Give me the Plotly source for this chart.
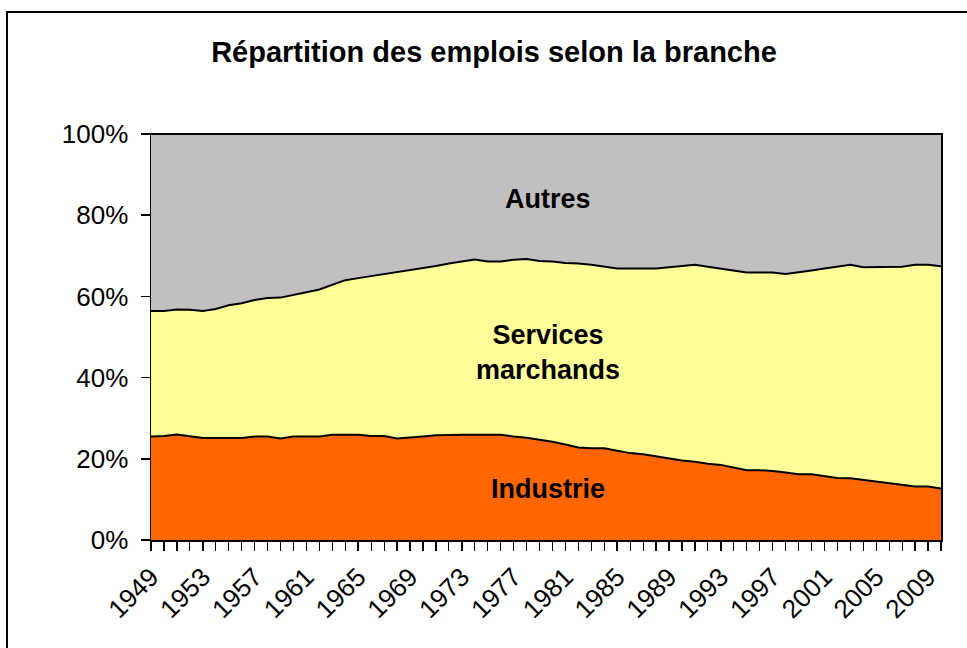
import plotly.graph_objects as go

years = list(range(1949, 2011))

# share of "Industrie" (%)
industrie = [25.5, 25.6, 26.0, 25.5, 25.1, 25.1, 25.1, 25.1, 25.5, 25.5,
             25.0, 25.5, 25.5, 25.5, 25.9, 25.9, 25.9, 25.6, 25.6, 25.0,
             25.2, 25.5, 25.8, 25.9, 25.9, 25.9, 25.9, 25.9, 25.5, 25.2,
             24.7, 24.2, 23.5, 22.8, 22.6, 22.6, 22.0, 21.4, 21.1, 20.6,
             20.0, 19.6, 19.3, 18.8, 18.5, 17.9, 17.2, 17.2, 17.0, 16.6,
             16.2, 16.2, 15.7, 15.3, 15.2, 14.8, 14.4, 14.0, 13.6, 13.2,
             13.2, 12.7]

# cumulative top of "Services marchands" (Industrie + Services)
top_services = [56.4, 56.4, 56.8, 56.7, 56.4, 56.9, 57.8, 58.3, 59.1, 59.6,
                59.7, 60.3, 61.0, 61.7, 62.9, 64.0, 64.5, 65.0, 65.5, 65.9,
                66.4, 67.0, 67.5, 68.1, 68.6, 69.1, 68.6, 68.6, 69.0, 69.2,
                68.7, 68.6, 68.2, 68.1, 67.8, 67.4, 66.9, 66.9, 66.9, 66.9,
                67.2, 67.5, 67.8, 67.3, 66.8, 66.3, 65.9, 65.9, 65.9, 65.5,
                65.9, 66.4, 66.9, 67.4, 67.8, 67.2, 67.2, 67.2, 67.3, 67.8,
                67.8, 67.4]

services = [round(t - i, 1) for t, i in zip(top_services, industrie)]
autres = [round(100 - t, 1) for t in top_services]

tick_years = list(range(1949, 2010, 4))
tick_text = [str(y) for y in tick_years]
y_ticks = [0, 20, 40, 60, 80, 100]
y_text = [f"{v}%" for v in y_ticks]

FONT = "Arial, Liberation Sans, sans-serif"

fig = go.Figure()
series = [("Industrie", industrie, "#FF6600"),
          ("Services marchands", services, "#FFFF99"),
          ("Autres", autres, "#C0C0C0")]
for name, vals, col in series:
    fig.add_trace(go.Scatter(
        x=years, y=vals, name=name, mode="lines", stackgroup="one",
        fillcolor=col, line=dict(color="black", width=2), hoverinfo="skip"))

fig.update_layout(
    width=967, height=648,
    margin=dict(l=151, r=26, t=134, b=108, autoexpand=False),
    paper_bgcolor="white", plot_bgcolor="white",
    showlegend=False,
    font=dict(family=FONT, color="black", size=26),
    title=dict(text="<b>Répartition des emplois selon la branche</b>",
               xref="container", yref="container",
               x=494 / 967, y=1 - 52 / 648, xanchor="center", yanchor="middle",
               font=dict(size=29, family=FONT, color="black")),
)

fig.update_xaxes(
    range=[1949, 2010], tickvals=tick_years, ticktext=tick_text,
    tickangle=-45, ticks="outside", ticklen=9, tickcolor="black", tickwidth=1.5,
    showline=True, linecolor="black", linewidth=1.5, mirror=True,
    showgrid=False, zeroline=False, automargin=False,
    ticklabelstandoff=1,
    minor=dict(ticks="outside", dtick=1, tick0=1949, ticklen=9, tickcolor="black",
               tickwidth=1.2, showgrid=False),
    tickfont=dict(size=26, family=FONT, color="black"),
)
fig.update_yaxes(
    range=[0, 100], tickvals=y_ticks, ticktext=y_text,
    ticks="outside", ticklen=9, tickcolor="black", tickwidth=1.5,
    showline=True, linecolor="black", linewidth=1.5, mirror=True,
    showgrid=False, zeroline=False, automargin=False,
    ticklabelstandoff=7,
    tickfont=dict(size=26, family=FONT, color="black"),
)

ann_font = dict(size=27, family=FONT, color="black")
fig.add_annotation(xref="paper", yref="y", x=0.5025, y=84.1, text="<b>Autres</b>",
                   showarrow=False, font=ann_font)
fig.add_annotation(xref="paper", yref="y", x=0.5025, y=46.3,
                   text="<b>Services<br>marchands</b>", showarrow=False,
                   font=ann_font, align="center")
fig.add_annotation(xref="paper", yref="y", x=0.5025, y=12.5, text="<b>Industrie</b>",
                   showarrow=False, font=ann_font)

# outer chart border
fig.add_shape(type="rect", xref="paper", yref="paper",
              x0=(7 - 151) / 790, x1=1.3, y0=-0.5, y1=(540 - 12) / 406,
              line=dict(color="black", width=2), fillcolor="rgba(0,0,0,0)", layer="above")

fig.write_html("out.html",
               config={"displayModeBar": False, "staticPlot": True},
               post_script="document.body.style.margin='0';document.body.style.overflow='hidden';")
